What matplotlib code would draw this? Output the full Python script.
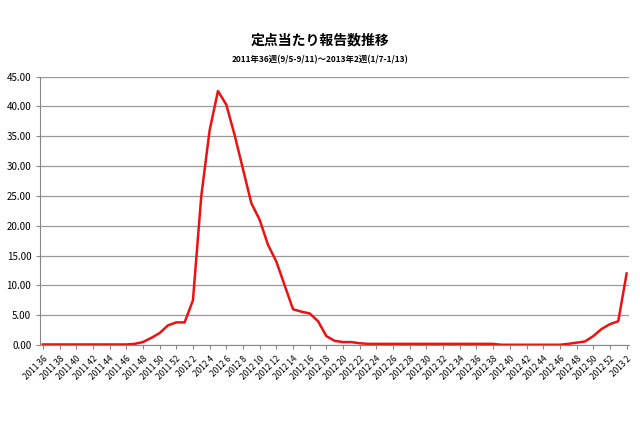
import matplotlib
matplotlib.use("Agg")
import matplotlib.pyplot as plt

plt.rcParams['font.family'] = ['Noto Sans CJK JP', 'DejaVu Sans']

# 週ラベル
weeks = [f"2011 {w}" for w in range(36, 53)] + [f"2012 {w}" for w in range(1, 53)] + ["2013 1", "2013 2"]

# 定点当たり報告数
values = [0.1, 0.1, 0.1, 0.1, 0.1, 0.1, 0.1, 0.1, 0.1, 0.1, 0.1, 0.2, 0.5, 1.2, 2.0, 3.3, 3.8,
          3.8, 7.5, 25.0, 36.0, 42.6, 40.3, 35.2, 29.5, 23.8, 21.0, 16.8, 14.0, 10.0, 6.0,
          5.6, 5.3, 4.0, 1.5, 0.7, 0.5, 0.5, 0.3, 0.2, 0.2, 0.2, 0.2, 0.2, 0.2, 0.2, 0.2,
          0.2, 0.2, 0.2, 0.2, 0.2, 0.2, 0.2, 0.2, 0.05, 0.05, 0.05, 0.05, 0.05, 0.05,
          0.05, 0.05, 0.2, 0.4, 0.6, 1.5, 2.7, 3.5, 4.0, 12.0]

fig = plt.figure(figsize=(6.4, 4.26), dpi=100)
ax = fig.add_axes([0.063, 0.19, 0.92, 0.63])
x = list(range(len(weeks)))
ax.plot(x, values, color='#ee1111', lw=1.8)
ax.set_xlim(-0.3, len(weeks) - 0.7)
ax.set_ylim(0, 45)
ax.set_yticks([i * 5 for i in range(10)])
ax.set_yticklabels([f"{i*5:.2f}" for i in range(10)], fontsize=7)
ax.set_xticks(x[::2])
ax.set_xticklabels(weeks[::2], rotation=45, ha='right', rotation_mode='anchor', fontsize=6)
ax.grid(axis='y', color='#999999', lw=0.9)
ax.set_axisbelow(True)
for s in ['top', 'right']:
    ax.spines[s].set_visible(False)
ax.spines['left'].set_color('#888888')
ax.spines['bottom'].set_color('#888888')
ax.tick_params(length=3, color='#888888')

fig.text(0.5, 0.895, "定点当たり報告数推移", ha='center', fontsize=10, weight='bold')
fig.text(0.5, 0.855, "2011年36週(9/5-9/11)～2013年2週(1/7-1/13)", ha='center', fontsize=6, weight='bold')

fig.savefig("out.png", dpi=100)
